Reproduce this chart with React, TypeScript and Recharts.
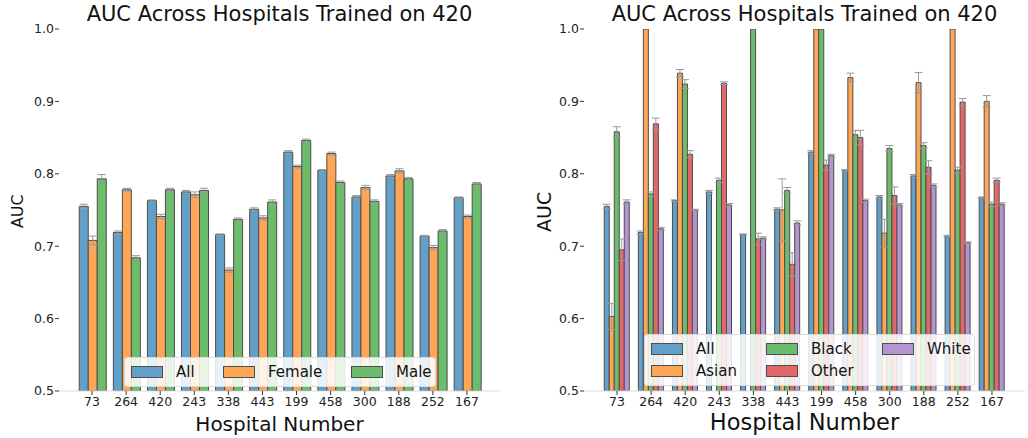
import { Bar, BarChart, ErrorBar, XAxis, YAxis } from "recharts";

const hospitals = ["73", "264", "420", "243", "338", "443", "199", "458", "300", "188", "252", "167"];
const yTicks = [0.5, 0.6, 0.7, 0.8, 0.9, 1.0];

// AUC per hospital, model trained on hospital 420
const allAuc = [0.755, 0.719, 0.763, 0.775, 0.716, 0.751, 0.83, 0.805, 0.768, 0.797, 0.714, 0.767];
const allErr = [0.003, 0.002, 0.001, 0.002, 0.001, 0.002, 0.002, 0.001, 0.002, 0.002, 0.001, 0.001];

const femaleAuc = [0.708, 0.778, 0.741, 0.771, 0.667, 0.739, 0.81, 0.828, 0.781, 0.804, 0.698, 0.741];
const femaleErr = [0.006, 0.002, 0.003, 0.004, 0.003, 0.003, 0.002, 0.002, 0.003, 0.003, 0.003, 0.002];

const maleAuc = [0.793, 0.684, 0.778, 0.777, 0.737, 0.761, 0.846, 0.788, 0.762, 0.793, 0.721, 0.786];
const maleErr = [0.006, 0.003, 0.002, 0.003, 0.002, 0.003, 0.002, 0.002, 0.002, 0.002, 0.002, 0.002];

const asianAuc = [0.603, 1.0, 0.939, null, null, 0.75, 1.0, 0.933, 0.718, 0.926, 1.0, 0.9];
const asianErr = [0.018, 0, 0.005, 0, 0, 0.043, 0, 0.006, 0.019, 0.014, 0, 0.008];

const blackAuc = [0.858, 0.772, 0.924, 0.791, 1.0, 0.777, 1.0, 0.854, 0.835, 0.839, 0.805, 0.758];
const blackErr = [0.007, 0.003, 0.006, 0.003, 0, 0.004, 0, 0.006, 0.004, 0.004, 0.004, 0.003];

const otherAuc = [0.695, 0.869, 0.827, 0.925, 0.71, 0.675, 0.812, 0.85, 0.77, 0.809, 0.899, 0.791];
const otherErr = [0.015, 0.008, 0.005, 0.002, 0.008, 0.016, 0.007, 0.01, 0.012, 0.009, 0.005, 0.003];

const whiteAuc = [0.761, 0.724, 0.75, 0.757, 0.711, 0.732, 0.825, 0.763, 0.757, 0.784, 0.705, 0.758];
const whiteErr = [0.003, 0.002, 0.001, 0.002, 0.002, 0.003, 0.002, 0.002, 0.002, 0.002, 0.001, 0.002];

const FONT = "'DejaVu Sans', sans-serif";
const EDGE = "#4d4d4d";

type Series = {
  key: string;
  name: string;
  color: string;
  values: (number | null)[];
  errors: number[];
};

const sexSeries: Series[] = [
  { key: "all", name: "All", color: "#62a0ca", values: allAuc, errors: allErr },
  { key: "female", name: "Female", color: "#ffa556", values: femaleAuc, errors: femaleErr },
  { key: "male", name: "Male", color: "#6bbc6b", values: maleAuc, errors: maleErr },
];

const raceSeries: Series[] = [
  { key: "all", name: "All", color: "#62a0ca", values: allAuc, errors: allErr },
  { key: "asian", name: "Asian", color: "#ffa556", values: asianAuc, errors: asianErr },
  { key: "black", name: "Black", color: "#6bbc6b", values: blackAuc, errors: blackErr },
  { key: "other", name: "Other", color: "#e26868", values: otherAuc, errors: otherErr },
  { key: "white", name: "White", color: "#b495d1", values: whiteAuc, errors: whiteErr },
];

const buildRows = (series: Series[]) =>
  hospitals.map((h, i) => {
    const row: Record<string, string | number | null> = { name: h };
    series.forEach((s) => {
      row[s.key] = s.values[i];
      row[s.key + "Err"] = s.errors[i];
    });
    return row;
  });

interface LegendProps {
  series: Series[];
  left: number;
  top: number;
  width: number;
  rows: number;
  columns: string;
}

const LegendBox = ({ series, left, top, width, rows, columns }: LegendProps) => (
  <div
    style={{
      position: "absolute",
      left,
      top,
      width,
      boxSizing: "border-box",
      padding: "3px 6px",
      background: "rgba(255,255,255,0.85)",
      border: "1px solid #d9d9d9",
      borderRadius: 3,
      display: "grid",
      gridTemplateRows: `repeat(${rows}, 22px)`,
      gridTemplateColumns: columns,
      gridAutoFlow: "column",
      fontFamily: FONT,
      fontSize: 15,
      color: "#111",
    }}
  >
    {series.map((s) => (
      <div key={s.key} style={{ display: "flex", alignItems: "center" }}>
        <span
          style={{
            display: "inline-block",
            width: 30,
            height: 10,
            background: s.color,
            border: `1px solid ${EDGE}`,
            marginRight: 13,
          }}
        />
        {s.name}
      </div>
    ))}
  </div>
);

interface PanelProps {
  series: Series[];
  offset: number;
  marginLeft: number;
  marginRight: number;
  xLabelSize: number;
  yLabelSize: number;
  yLabelX: number;
  legend: Omit<LegendProps, "series">;
}

const Panel = ({ series, offset, marginLeft, marginRight, xLabelSize, yLabelSize, yLabelX, legend }: PanelProps) => {
  const data = buildRows(series);
  const plotLeft = marginLeft + 40;
  const plotRight = 514 - marginRight;
  const center = (plotLeft + plotRight) / 2;

  return (
    <div style={{ position: "absolute", left: offset, top: 0, width: 514, height: 438 }}>
      <BarChart
        width={514}
        height={438}
        data={data}
        margin={{ top: 29, right: marginRight, bottom: 0, left: marginLeft }}
        barCategoryGap="12.5%"
        barGap={0}
      >
        <XAxis
          dataKey="name"
          height={47}
          padding={{ left: 16, right: 16 }}
          axisLine={{ stroke: "#dcdcdc" }}
          tickLine={{ stroke: "#333" }}
          tickSize={4}
          tick={{ fontFamily: FONT, fontSize: 12.5, fill: "#222" }}
          interval={0}
        />
        <YAxis
          width={40}
          domain={[0.5, 1]}
          ticks={yTicks}
          allowDataOverflow
          axisLine={false}
          tickLine={{ stroke: "#333" }}
          tickSize={4}
          tickMargin={1}
          tickFormatter={(v: number) => v.toFixed(1)}
          tick={{ fontFamily: FONT, fontSize: 12.5, fill: "#222" }}
        />
        {series.map((s) => (
          <Bar
            key={s.key}
            dataKey={s.key}
            name={s.name}
            fill={s.color}
            stroke={EDGE}
            strokeWidth={1}
            isAnimationActive={false}
          >
            <ErrorBar dataKey={s.key + "Err"} width={4} strokeWidth={1} stroke="#999" />
          </Bar>
        ))}
      </BarChart>

      <div
        style={{
          position: "absolute",
          left: center - 250,
          width: 500,
          top: 2,
          textAlign: "center",
          fontFamily: FONT,
          fontSize: 21,
          color: "#111",
        }}
      >
        AUC Across Hospitals Trained on 420
      </div>
      <div
        style={{
          position: "absolute",
          left: center - 150,
          width: 300,
          top: 436 - xLabelSize * 1.17,
          textAlign: "center",
          fontFamily: FONT,
          fontSize: xLabelSize,
          lineHeight: 1.15,
          color: "#111",
        }}
      >
        Hospital Number
      </div>
      <div
        style={{
          position: "absolute",
          left: yLabelX - 50,
          top: 212 - yLabelSize * 0.6,
          width: 100,
          textAlign: "center",
          transform: "rotate(-90deg)",
          fontFamily: FONT,
          fontSize: yLabelSize,
          lineHeight: 1.15,
          color: "#111",
        }}
      >
        AUC
      </div>
      <LegendBox series={series} {...legend} left={legend.left - offset} />
    </div>
  );
};

export default function App() {
  return (
    <div style={{ position: "absolute", left: 0, top: 0, width: 1028, height: 438, background: "#fff" }}>
      <Panel
        series={sexSeries}
        offset={0}
        marginLeft={19}
        marginRight={14}
        xLabelSize={20}
        yLabelSize={16}
        yLabelX={18}
        legend={{ left: 124, top: 357, width: 312, rows: 1, columns: "92px 128px auto" }}
      />
      <Panel
        series={raceSeries}
        offset={514}
        marginLeft={30}
        marginRight={3}
        xLabelSize={22.5}
        yLabelSize={19}
        yLabelX={31}
        legend={{ left: 644, top: 334, width: 331, rows: 2, columns: "115px 116px auto" }}
      />
    </div>
  );
}
